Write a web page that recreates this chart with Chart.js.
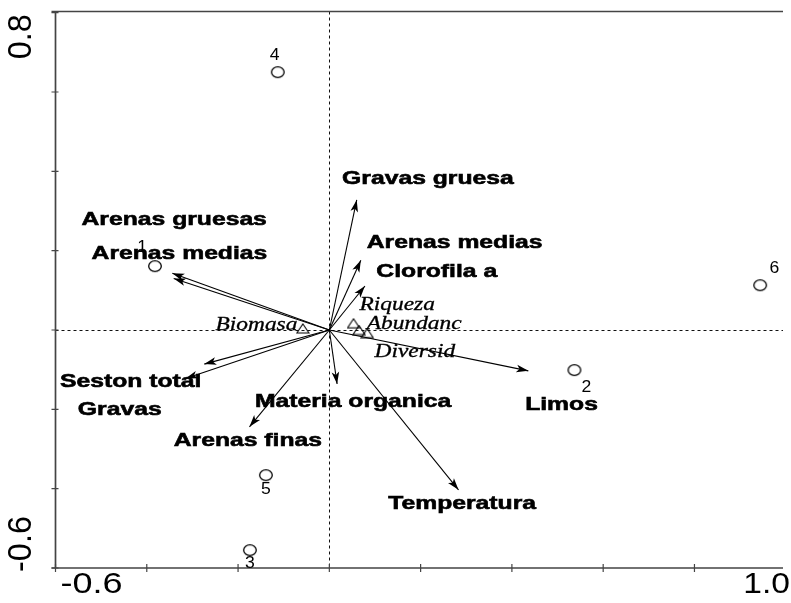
<!DOCTYPE html>
<html>
<head>
<meta charset="utf-8">
<script src="https://cdn.jsdelivr.net/npm/chart.js@4/dist/chart.umd.min.js"></script>
<style>
  html, body { margin: 0; padding: 0; background: #fff; }
  canvas { display: block; }
</style>
</head>
<body>
<canvas id="cca" width="791" height="603"></canvas>
<script>
// CCA biplot: sites (circles), species (triangles), environmental vectors (arrows)

// axis ticks
const xTicks = [-0.6, -0.4, -0.2, 0, 0.2, 0.4, 0.6, 0.8, 1.0];
const yTicks = [-0.6, -0.4, -0.2, 0, 0.2, 0.4, 0.6, 0.8];
const xTickLabels = ['-0.6', '1.0'];
const yTickLabels = ['-0.6', '0.8'];

// environmental variables (arrow tips and label anchors, in axis units)
const envNames = ['Gravas gruesa', 'Arenas medias', 'Clorofila a', 'Arenas gruesas', 'Arenas medias',
  'Seston total', 'Gravas', 'Materia organica', 'Arenas finas', 'Limos', 'Temperatura'];
const envX = [0.060, 0.069, 0.078, -0.344, -0.341, -0.274, -0.315, 0.017, -0.175, 0.436, 0.283];
const envY = [0.328, 0.176, 0.111, 0.143, 0.130, -0.086, -0.122, -0.136, -0.244, -0.103, -0.403];
const envLabelX = [0.028, 0.082, 0.103, -0.543, -0.521, -0.590, -0.551, -0.163, -0.341, 0.429, 0.129];
const envLabelY = [0.381, 0.219, 0.146, 0.277, 0.192, -0.131, -0.202, -0.181, -0.280, -0.189, -0.439];

// sites
const siteNames = ['1', '2', '3', '4', '5', '6'];
const siteX = [-0.382, 0.537, -0.174, -0.113, -0.139, 0.944];
const siteY = [0.161, -0.101, -0.555, 0.650, -0.366, 0.113];
const siteLabelX = [-0.410, 0.563, -0.174, -0.120, -0.139, 0.975];
const siteLabelY = [0.207, -0.144, -0.590, 0.693, -0.403, 0.154];

// species
const speciesNames = ['Biomasa', 'Riqueza', 'Abundanc', 'Diversid'];
const speciesX = [-0.058, 0.053, 0.065, 0.083];
const speciesY = [0.004, 0.017, 0.000, -0.008];
const speciesLabelX = [-0.070, 0.066, 0.082, 0.099];
const speciesLabelY = [0.013, 0.063, 0.015, -0.055];

const SX = 1.3; // the original is stretched horizontally

function ellipseSprite() {
  const c = document.createElement('canvas');
  c.width = 16; c.height = 14;
  const g = c.getContext('2d');
  g.fillStyle = '#fff';
  g.strokeStyle = '#000';
  g.lineWidth = 1.3;
  g.beginPath();
  g.ellipse(8, 7, 6.3, 5.3, 0, 0, Math.PI * 2);
  g.fill();
  g.stroke();
  return c;
}

function triangleSprite() {
  const c = document.createElement('canvas');
  c.width = 14; c.height = 11;
  const g = c.getContext('2d');
  g.strokeStyle = '#000';
  g.lineWidth = 1.1;
  g.beginPath();
  g.moveTo(7, 1); g.lineTo(13, 10); g.lineTo(1, 10); g.closePath();
  g.stroke();
  return c;
}

function stretchText(ctx, text, x, y, align, sx, heavy) {
  ctx.save();
  ctx.translate(x, y);
  ctx.scale(sx, 1);
  ctx.textAlign = align;
  ctx.textBaseline = 'middle';
  ctx.fillText(text, 0, 0);
  if (heavy) {
    ctx.lineWidth = heavy;
    ctx.strokeText(text, 0, 0);
  }
  ctx.restore();
}

const frame = {
  id: 'frame',
  beforeDatasetsDraw(chart) {
    const { ctx, chartArea: a, scales: { x, y } } = chart;
    ctx.save();
    // zero lines
    ctx.strokeStyle = '#111';
    ctx.lineWidth = 1;
    ctx.setLineDash([3, 3]);
    const x0 = Math.round(x.getPixelForValue(0)) + 0.5;
    const y0 = Math.round(y.getPixelForValue(0)) + 0.5;
    ctx.beginPath();
    ctx.moveTo(x0, a.top); ctx.lineTo(x0, a.bottom);
    ctx.moveTo(a.left, y0); ctx.lineTo(a.right, y0);
    ctx.stroke();
    ctx.setLineDash([]);
    // axes
    ctx.strokeStyle = '#444';
    ctx.lineWidth = 1.7;
    ctx.beginPath();
    ctx.moveTo(a.left - 4, a.top); ctx.lineTo(a.right, a.top);
    ctx.moveTo(a.left, a.top); ctx.lineTo(a.left, a.bottom);
    ctx.moveTo(a.left - 4, a.bottom); ctx.lineTo(a.right, a.bottom);
    ctx.stroke();
    ctx.lineWidth = 1.2;
    ctx.beginPath();
    yTicks.forEach(v => {
      const py = y.getPixelForValue(v);
      ctx.moveTo(a.left - 4, py); ctx.lineTo(a.left + 3, py);
    });
    xTicks.forEach(v => {
      const px = x.getPixelForValue(v);
      if (px > a.right) return;
      ctx.moveTo(px, a.bottom - 4); ctx.lineTo(px, a.bottom + 4);
    });
    ctx.stroke();
    // tick labels
    ctx.fillStyle = '#000';
    ctx.strokeStyle = '#000';
    ctx.font = '30px "Liberation Sans", Arial, sans-serif';
    stretchText(ctx, xTickLabels[0], x.getPixelForValue(-0.6) + 5, 585, 'left', 1.2);
    stretchText(ctx, xTickLabels[1], 790, 585, 'right', 1.12);
    yTickLabels.forEach((t, i) => {
      const v = i === 0 ? -0.6 : 0.8;
      const py = y.getPixelForValue(v) + (i === 0 ? -24 : 24);
      ctx.save();
      ctx.translate(22, py);
      ctx.rotate(-Math.PI / 2);
      ctx.scale(1.08, 1.08);
      ctx.textAlign = 'center';
      ctx.textBaseline = 'middle';
      ctx.fillText(t, 0, 0);
      ctx.restore();
    });
    ctx.restore();
  },
  afterDatasetsDraw(chart) {
    const { ctx, scales: { x, y } } = chart;
    ctx.save();
    ctx.fillStyle = '#000';
    ctx.strokeStyle = '#000';
    // arrowheads
    envX.forEach((ex, i) => {
      const tx = x.getPixelForValue(ex), ty = y.getPixelForValue(envY[i]);
      const ox = x.getPixelForValue(0), oy = y.getPixelForValue(0);
      const ang = Math.atan2(ty - oy, tx - ox);
      const L = 12, W = 3.8;
      ctx.beginPath();
      ctx.moveTo(tx, ty);
      ctx.lineTo(tx - L * Math.cos(ang) + W * Math.sin(ang), ty - L * Math.sin(ang) - W * Math.cos(ang));
      ctx.lineTo(tx - L * 0.75 * Math.cos(ang), ty - L * 0.75 * Math.sin(ang));
      ctx.lineTo(tx - L * Math.cos(ang) - W * Math.sin(ang), ty - L * Math.sin(ang) + W * Math.cos(ang));
      ctx.closePath();
      ctx.fill();
    });
    // env labels
    ctx.font = 'bold 19px "Liberation Sans", Arial, sans-serif';
    envNames.forEach((n, i) => {
      stretchText(ctx, n, x.getPixelForValue(envLabelX[i]), y.getPixelForValue(envLabelY[i]), 'left', SX, 0.6);
    });
    // species labels
    ctx.font = 'italic 18px "Liberation Serif", "Times New Roman", serif';
    speciesNames.forEach((n, i) => {
      stretchText(ctx, n, x.getPixelForValue(speciesLabelX[i]), y.getPixelForValue(speciesLabelY[i]),
        i === 0 ? 'right' : 'left', SX, 0.3);
    });
    // site labels
    ctx.font = '16px "Liberation Sans", Arial, sans-serif';
    siteNames.forEach((n, i) => {
      stretchText(ctx, n, x.getPixelForValue(siteLabelX[i]), y.getPixelForValue(siteLabelY[i]), 'center', 1.1);
    });
    ctx.restore();
  }
};

const arrowSets = envNames.map((n, i) => ({
  label: n,
  data: [{ x: 0, y: 0 }, { x: envX[i], y: envY[i] }],
  showLine: true,
  borderColor: '#000',
  borderWidth: 1.1,
  pointRadius: 0,
  order: 3
}));

new Chart(document.getElementById('cca'), {
  type: 'scatter',
  data: {
    datasets: [
      ...arrowSets,
      {
        label: 'Especies',
        data: speciesX.map((v, i) => ({ x: v, y: speciesY[i] })),
        pointStyle: triangleSprite(),
        pointRadius: 6,
        order: 2
      },
      {
        label: 'Estaciones',
        data: siteX.map((v, i) => ({ x: v, y: siteY[i] })),
        pointStyle: ellipseSprite(),
        pointRadius: 7,
        order: 1
      }
    ]
  },
  options: {
    responsive: false,
    animation: false,
    events: [],
    layout: { padding: { left: 55.5, top: 11.5, right: 0, bottom: 35 } },
    plugins: { legend: { display: false }, tooltip: { enabled: false } },
    scales: {
      x: { type: 'linear', min: -0.6, max: 0.994, display: false },
      y: { type: 'linear', min: -0.6, max: 0.803, display: false }
    }
  },
  plugins: [frame]
});
</script>
</body>
</html>
